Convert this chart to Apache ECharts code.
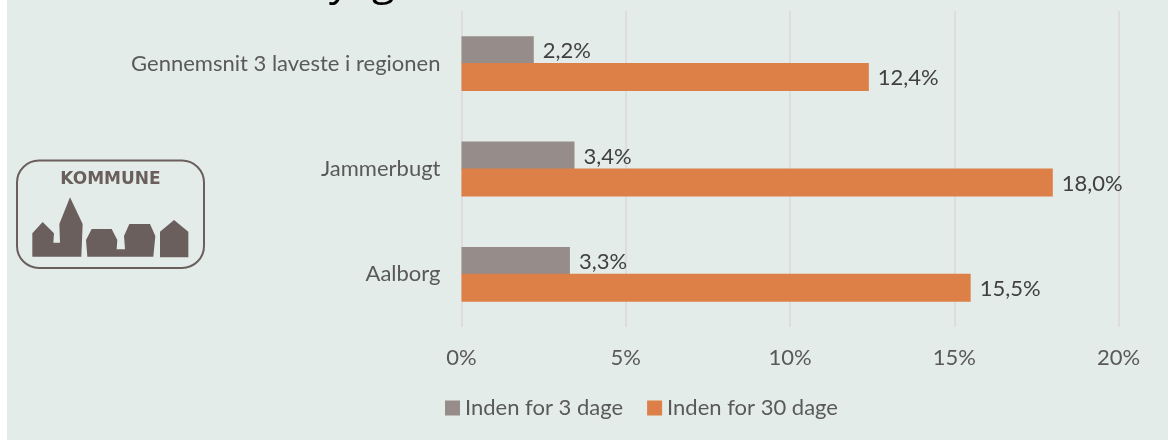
<!DOCTYPE html>
<html><head><meta charset="utf-8">
<style>html,body{margin:0;padding:0;background:#fff}#c{width:1168px;height:440px}</style>
<script src="https://cdn.jsdelivr.net/npm/echarts@6/dist/echarts.min.js"></script>
</head><body><div id="c"></div>
<script>
const categories = ['Gennemsnit 3 laveste i regionen', 'Jammerbugt', 'Aalborg'];
const within3 = [2.2, 3.44, 3.3];
const within30 = [12.4, 18.0, 15.5];
const seriesNames = ['Inden for 3 dage', 'Inden for 30 dage'];
const titleFragment = 'y  g';
const FONT = 'Lato, sans-serif';
const FS = 22;
const pct = v => v.toFixed(1).replace('.', ',') + '%';
const z = (x, y) => [x / 3, y / 3 + 150];
const LOGO = '#6b5f5e';
const poly = pts => ({ type: 'polygon', shape: { points: pts.map(p => z(p[0], p[1])) }, style: { fill: LOGO } });
const chart = echarts.init(document.getElementById('c'), null, { renderer: 'canvas' });
const lbl = { show: true, position: 'right', distance: 9, offset: [0, 1], color: '#404040', fontFamily: FONT, fontSize: FS, formatter: p => pct(p.value) };
chart.setOption({
  animation: false,
  backgroundColor: '#ffffff',
  textStyle: { fontFamily: FONT },
  grid: { left: 461.5, right: 49.5, top: 11, height: 316, containLabel: false },
  xAxis: {
    type: 'value', min: 0, max: 20, interval: 5,
    axisLine: { show: false }, axisTick: { show: false },
    splitLine: { show: true, lineStyle: { color: '#dcdddc', width: 2 } },
    axisLabel: { color: '#595959', fontSize: FS, fontFamily: FONT, margin: 20, formatter: v => v + '%' }
  },
  yAxis: {
    type: 'category', inverse: true, data: categories,
    axisLine: { show: false }, axisTick: { show: false },
    axisLabel: { color: '#595959', fontSize: FS, fontFamily: FONT, margin: 21 }
  },
  legend: {
    left: 440, top: 392, itemWidth: 15, itemHeight: 15, itemGap: 24,
    icon: 'rect', data: seriesNames,
    textStyle: { color: '#595959', fontSize: FS, fontFamily: FONT, padding: [6, 0, 0, 0] }
  },
  series: [
    { name: seriesNames[0], type: 'bar', data: within3, barWidth: 28, barGap: '-4%', itemStyle: { color: '#968c8a' }, label: lbl, z: 2 },
    { name: seriesNames[1], type: 'bar', data: within30, barWidth: 28, itemStyle: { color: '#dd8047' }, label: lbl, z: 3 }
  ],
  graphic: [
    { type: 'rect', z: -10, shape: { x: 7, y: 0, width: 1161, height: 440 }, style: { fill: '#e4ece9' } },
    { type: 'text', z: 5, x: 329, y: -38, style: { text: titleFragment, fill: '#000', font: '42px "Open Sans", sans-serif' } },
    { type: 'group', z: 5, children: [
      { type: 'rect', shape: { x: 17, y: 160.5, width: 187, height: 107.5, r: 22 }, style: { fill: 'none', stroke: LOGO, lineWidth: 2 } },
      { type: 'text', x: 110.5, y: 180, style: { text: 'KOMMUNE', fill: LOGO, font: 'bold 17px "DejaVu Sans", sans-serif', textAlign: 'center', textVerticalAlign: 'middle' } },
      poly([[97,320],[97,250],[128,216],[162,250],[160,278],[180,278],[178,222],[210,142],[248,222],[244,320]]),
      poly([[262,320],[258,270],[275,237],[335,237],[352,270],[350,298],[375,298],[372,258],[388,222],[450,222],[466,258],[460,320]]),
      poly([[480,322],[480,245],[522,210],[565,245],[565,322]])
    ] }
  ]
});
</script></body></html>
